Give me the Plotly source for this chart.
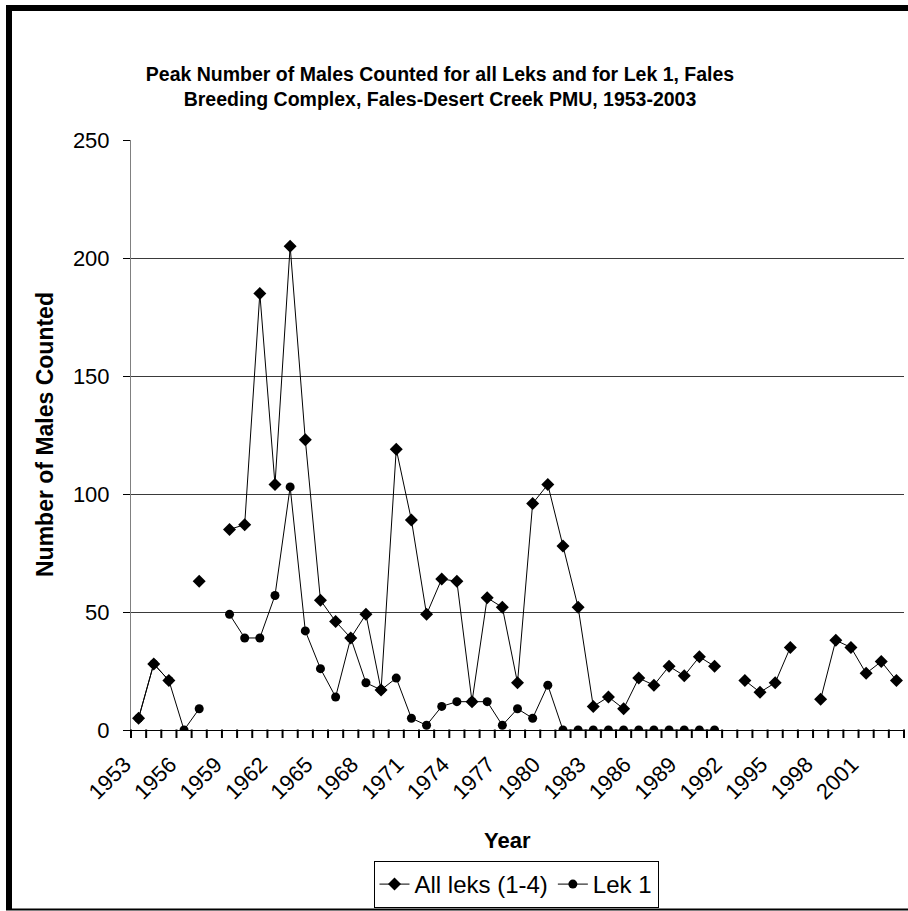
import plotly.graph_objects as go

years = list(range(1953, 2004))

all_leks = [5, 28, 21, None, 63, None, 85, 87, 185, 104,
            205, 123, 55, 46, 39, 49, 17, 119, 89, 49,
            64, 63, 12, 56, 52, 20, 96, 104, 78, 52,
            10, 14, 9, 22, 19, 27, 23, 31, 27, None,
            21, 16, 20, 35, None, 13, 38, 35, 24, 29,
            21]

lek_1 = [5, 28, 21, 0, 9, None, 49, 39, 39, 57,
         103, 42, 26, 14, 39, 20, 17, 22, 5, 2,
         10, 12, 12, 12, 2, 9, 5, 19, 0, 0,
         0, 0, 0, 0, 0, 0, 0, 0, 0, None,
         None, None, None, None, None, None, None, None, None, None,
         None]

label_years = list(range(1953, 2002, 3))
label_text = [str(y) for y in label_years]
y_ticks = [0, 50, 100, 150, 200, 250]

x_range = [years[0] - 0.5, years[-1] + 0.5]

FONT = "Arial, 'Liberation Sans', sans-serif"

fig = go.Figure()
fig.add_trace(go.Scatter(
    x=years, y=all_leks, name="All leks (1-4)", mode="lines+markers",
    line=dict(color="black", width=1),
    marker=dict(symbol="diamond", size=10, color="black"),
    connectgaps=False,
))
fig.add_trace(go.Scatter(
    x=years, y=lek_1, name="Lek 1", mode="lines+markers",
    line=dict(color="black", width=1),
    marker=dict(symbol="circle", size=9, color="black"),
    connectgaps=False,
))

W, H = 908, 911
L, R, T, B = 131, 4, 140, 181
pw, ph = W - L - R, H - T - B

def px_x(p):
    return (p - L) / pw

def px_y(p):
    return (H - B - p) / ph

shapes = [
    dict(type="rect", xref="paper", yref="paper", x0=px_x(6), x1=px_x(12),
         y0=px_y(5), y1=px_y(910), fillcolor="black", line=dict(width=0), layer="above"),
    dict(type="rect", xref="paper", yref="paper", x0=px_x(6), x1=px_x(908),
         y0=px_y(5), y1=px_y(11), fillcolor="black", line=dict(width=0), layer="above"),
    dict(type="line", xref="paper", yref="paper", x0=px_x(6), x1=px_x(908),
         y0=px_y(909.5), y1=px_y(909.5), line=dict(color="black", width=2), layer="above"),
]

# category-boundary tick marks below the x axis, positioned from the year list
span = x_range[1] - x_range[0]
for b in [y - 0.5 for y in years] + [years[-1] + 0.5]:
    xp = (b - x_range[0]) / span
    shapes.append(dict(type="line", xref="paper", yref="paper", x0=xp, x1=xp,
                       y0=px_y(729.5), y1=px_y(738), line=dict(color="black", width=2),
                       layer="above"))

annotations = [
    dict(text="<b>Number of Males Counted</b>", xref="paper", yref="paper",
         x=px_x(45), y=px_y(435), xanchor="center", yanchor="middle",
         textangle=-90, showarrow=False, font=dict(size=23, family=FONT, color="black")),
    dict(text="<b>Year</b>", xref="paper", yref="paper",
         x=px_x(507), y=px_y(840), xanchor="center", yanchor="middle",
         showarrow=False, font=dict(size=22, family=FONT, color="black")),
]

fig.update_layout(
    width=W, height=H,
    margin=dict(l=L, r=R, t=T, b=B, autoexpand=False),
    paper_bgcolor="white", plot_bgcolor="white",
    font=dict(family=FONT, color="black"),
    title=dict(
        text="<b>Peak Number of Males Counted for all Leks and for Lek 1, Fales<br>"
             "Breeding Complex, Fales-Desert Creek PMU, 1953-2003</b>",
        x=440 / W, xanchor="center", y=1 - 81 / H, yanchor="middle",
        font=dict(size=19.5, family=FONT, color="black"),
    ),
    xaxis=dict(
        range=x_range,
        tickmode="array", tickvals=label_years, ticktext=label_text,
        tickangle=-45, ticks="", tickfont=dict(size=22),
        ticklabelshift=-14, ticklabelstandoff=12,
        showgrid=False, zeroline=False,
        showline=True, linecolor="black", linewidth=1,
        automargin=False,
    ),
    yaxis=dict(
        range=[0, 250], tickmode="array", tickvals=y_ticks,
        ticks="outside", ticklen=7, tickcolor="black",
        tickfont=dict(size=22), ticklabelstandoff=9,
        showgrid=True, gridcolor="#3a3a3a", gridwidth=1,
        zeroline=False, showline=True, linecolor="#808080", linewidth=1,
        automargin=False,
    ),
    legend=dict(
        orientation="h", x=(516 - L) / pw, xanchor="center",
        y=px_y(908), yanchor="bottom",
        bordercolor="black", borderwidth=1, bgcolor="white",
        font=dict(size=24), tracegroupgap=0,
    ),
    shapes=shapes,
    annotations=annotations,
)

fig.write_html(
    "out.html",
    config={"displayModeBar": False},
    post_script="document.body.style.margin='0';document.body.style.overflow='hidden';",
)
